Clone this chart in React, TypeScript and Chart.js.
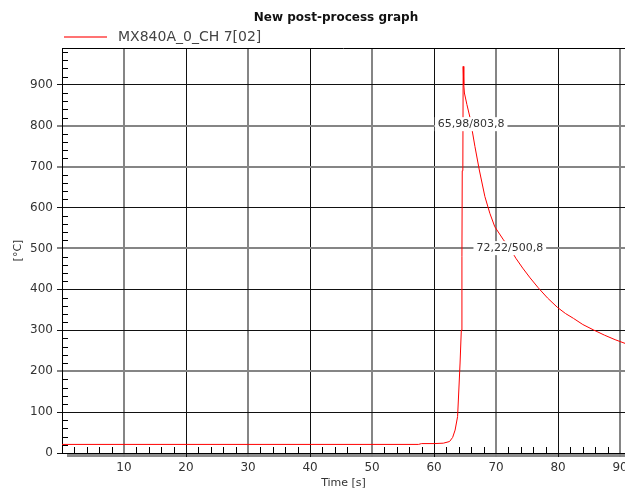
import React, { useEffect, useRef } from "react";
import { Chart, registerables } from "chart.js";

Chart.register(...registerables);

const chartTitle = "New post-process graph";
const seriesLabel = "MX840A_0_CH 7[02]";
const xAxisTitle = "Time [s]";
const yAxisTitle = "[°C]";

const timeSeconds = [
  0, 10, 20, 30, 40, 50, 57.5, 58, 60, 61.5, 62.5, 63, 63.4, 63.8, 64.0, 64.2, 64.4, 64.5, 64.55, 64.65,
  64.7, 64.8, 64.9, 65.3, 65.8, 65.98, 66.6, 67.3, 68.2, 69.0, 69.8, 71.2, 72.22, 73.2, 74.3, 75.5,
  76.8, 78.3, 79.9, 81.2, 82.5, 84.0, 85.7, 87.5, 89.2, 90.8,
];
const temperatureC = [
  21, 21, 21, 21, 21, 21, 21, 23, 23, 24, 28, 38, 56, 89, 154, 220, 300, 480, 690, 700,
  945, 900, 880, 852, 820, 803.8, 749, 692, 627, 586, 553, 521, 500.8, 476, 452, 428,
  404, 379, 356, 341, 329, 314, 301, 288, 277, 268,
];

const xTickValues = [10, 20, 30, 40, 50, 60, 70, 80, 90];
const yTickValues = [0, 100, 200, 300, 400, 500, 600, 700, 800, 900];
const xGrayGrid = [10, 30, 50, 70, 90];
const yGrayGrid = [200, 500, 700, 800];

const annotationX = [65.98, 72.22];
const annotationY = [803.8, 500.8];
const annotationText = ["65,98/803,8", "72,22/500,8"];

const FONT = '"DejaVu Sans", Verdana, sans-serif';

const decorPlugin = {
  id: "decor",
  beforeDraw(chart: any) {
    const { ctx, chartArea } = chart;
    ctx.save();
    ctx.fillStyle = "#8c8c8c";
    ctx.fillRect(chartArea.left + 5, chartArea.bottom + 1, chartArea.right - chartArea.left - 5, 3);
    ctx.restore();
  },
  beforeDatasetsDraw(chart: any) {
    const { ctx, chartArea, scales } = chart;
    const xs = scales.x;
    const ys = scales.y;
    ctx.save();
    ctx.strokeStyle = "#000";
    ctx.lineWidth = 1;
    ctx.beginPath();
    for (let v = 2; v < 91; v += 2) {
      if (v % 10 === 0) continue;
      const px = Math.round(xs.getPixelForValue(v)) + 0.5;
      ctx.moveTo(px, chartArea.bottom);
      ctx.lineTo(px, chartArea.bottom - 6);
    }
    for (let v = 20; v < 990; v += 20) {
      if (v % 100 === 0) continue;
      const py = Math.round(ys.getPixelForValue(v)) + 0.5;
      ctx.moveTo(chartArea.left, py);
      ctx.lineTo(chartArea.left + 6, py);
    }
    ctx.moveTo(chartArea.left, chartArea.top + 0.5);
    ctx.lineTo(chartArea.right, chartArea.top + 0.5);
    ctx.stroke();
    ctx.restore();
  },
  afterDatasetsDraw(chart: any) {
    const { ctx, scales } = chart;
    ctx.save();
    ctx.font = `11px ${FONT}`;
    ctx.textAlign = "center";
    ctx.textBaseline = "middle";
    for (let i = 0; i < annotationText.length; i++) {
      const px = scales.x.getPixelForValue(annotationX[i]);
      const py = scales.y.getPixelForValue(annotationY[i]);
      const w = ctx.measureText(annotationText[i]).width + 6;
      ctx.fillStyle = "#fff";
      ctx.fillRect(px - w / 2, py - 7, w, 14);
      ctx.fillStyle = "#333";
      ctx.fillText(annotationText[i], px, py);
    }
    ctx.restore();
  },
  afterDraw(chart: any) {
    const { ctx } = chart;
    ctx.save();
    ctx.font = `bold 12px ${FONT}`;
    ctx.fillStyle = "#111";
    ctx.textAlign = "center";
    ctx.textBaseline = "middle";
    ctx.fillText(chartTitle, 336, 18);
    ctx.strokeStyle = "rgba(255,0,0,0.55)";
    ctx.lineWidth = 2;
    ctx.beginPath();
    ctx.moveTo(64, 37);
    ctx.lineTo(107, 37);
    ctx.stroke();
    ctx.font = `14px ${FONT}`;
    ctx.fillStyle = "#444";
    ctx.textAlign = "left";
    ctx.fillText(seriesLabel, 118, 37);
    ctx.restore();
  },
};

export default function App() {
  const canvasRef = useRef<HTMLCanvasElement | null>(null);

  useEffect(() => {
    if (!canvasRef.current) return;
    const points = timeSeconds.map((t, i) => ({ x: t, y: temperatureC[i] }));
    const chart = new Chart(canvasRef.current, {
      type: "line",
      data: {
        datasets: [
          {
            label: seriesLabel,
            data: points,
            borderColor: "rgb(255,0,0)",
            borderWidth: 1,
            pointRadius: 0,
            tension: 0,
            fill: false,
          },
        ],
      },
      options: {
        animation: false,
        responsive: false,
        layout: { padding: { top: 48, left: 0, right: 0, bottom: 0 } },
        plugins: {
          legend: { display: false },
          title: { display: false },
          tooltip: { enabled: false },
        },
        scales: {
          x: {
            type: "linear",
            min: 0,
            max: 90.8,
            afterBuildTicks: (s: any) => {
              s.ticks = xTickValues.map((v) => ({ value: v }));
            },
            afterFit: (s: any) => {
              s.height = 38;
              s.paddingLeft = 0;
              s.paddingRight = 0;
            },
            grid: {
              color: (c: any) => (c.tick && xGrayGrid.includes(c.tick.value) ? "#858585" : "#111"),
              lineWidth: (c: any) => (c.tick && xGrayGrid.includes(c.tick.value) ? 2 : 1),
              tickLength: 4,
            },
            border: { display: true, color: "#000", width: 1 },
            ticks: {
              font: { family: FONT, size: 12 },
              color: "#333",
              padding: 4,
              maxRotation: 0,
              autoSkip: false,
              callback: (v: any) => String(v),
            },
            title: {
              display: true,
              text: xAxisTitle,
              font: { family: FONT, size: 11 },
              color: "#333",
              padding: { top: 0, bottom: 1 },
            },
          },
          y: {
            type: "linear",
            min: 0,
            max: 990,
            afterBuildTicks: (s: any) => {
              s.ticks = yTickValues.map((v) => ({ value: v }));
            },
            afterFit: (s: any) => {
              s.width = 62;
              s.paddingTop = 0;
              s.paddingBottom = 0;
            },
            grid: {
              color: (c: any) => (c.tick && yGrayGrid.includes(c.tick.value) ? "#858585" : "#111"),
              lineWidth: (c: any) => (c.tick && yGrayGrid.includes(c.tick.value) ? 2 : 1),
              tickLength: 5,
            },
            border: { display: true, color: "#000", width: 1 },
            ticks: {
              font: { family: FONT, size: 12 },
              color: "#333",
              padding: 4,
              autoSkip: false,
              callback: (v: any) => String(v),
            },
            title: {
              display: true,
              text: yAxisTitle,
              font: { family: FONT, size: 11 },
              color: "#333",
              padding: { top: 12, bottom: 0 },
            },
          },
        },
      },
      plugins: [decorPlugin],
    });
    return () => chart.destroy();
  }, []);

  return (
    <div style={{ position: "fixed", left: 0, top: 0, width: 625, height: 491, background: "#fff" }}>
      <canvas ref={canvasRef} width={625} height={491} style={{ display: "block" }} />
    </div>
  );
}
